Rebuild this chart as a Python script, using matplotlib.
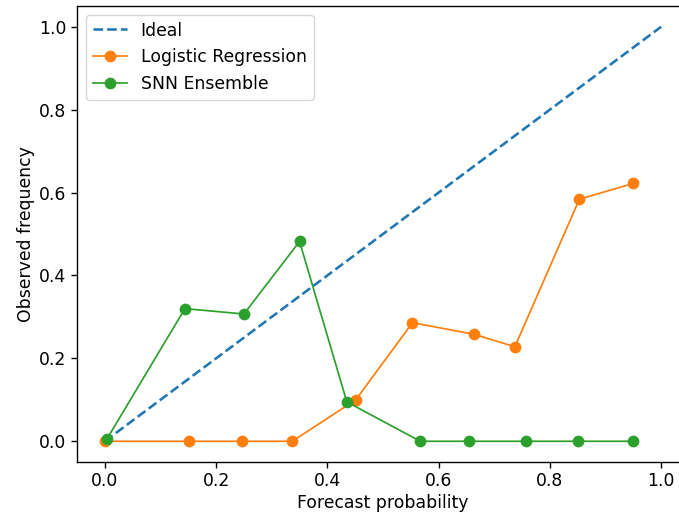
import matplotlib
matplotlib.use("Agg")
import matplotlib.pyplot as plt

ideal_x = [0.0, 1.0]
ideal_y = [0.0, 1.0]

lr_x = [0.0, 0.151, 0.247, 0.337, 0.451, 0.553, 0.664, 0.737, 0.853, 0.950]
lr_y = [0.0, 0.0, 0.0, 0.0, 0.100, 0.286, 0.258, 0.228, 0.584, 0.622]

snn_x = [0.004, 0.144, 0.250, 0.350, 0.435, 0.567, 0.654, 0.757, 0.850, 0.950]
snn_y = [0.006, 0.320, 0.307, 0.482, 0.095, 0.0, 0.0, 0.0, 0.0, 0.0]

s = 1.24
plt.rcParams.update({
    'font.size': 10 * s,
    'axes.linewidth': 0.8 * s,
    'xtick.major.size': 3.5 * s,
    'ytick.major.size': 3.5 * s,
    'xtick.major.width': 0.8 * s,
    'ytick.major.width': 0.8 * s,
    'xtick.major.pad': 3.0,
    'ytick.major.pad': 3.5,
    'axes.labelpad': 3.0,
})

fig = plt.figure(figsize=(6.79, 5.15), dpi=100)
ax = fig.add_axes([77/679, 53/515, 612/679, 456/515])

ax.plot(ideal_x, ideal_y, '--', color='#1f77b4', lw=1.5 * s, label='Ideal')
ax.plot(lr_x, lr_y, '-o', color='#ff7f0e', lw=1.0 * s, ms=6 * s, label='Logistic Regression')
ax.plot(snn_x, snn_y, '-o', color='#2ca02c', lw=1.0 * s, ms=6 * s, label='SNN Ensemble')

ax.set_xlabel('Forecast probability')
ax.set_ylabel('Observed frequency')
ax.legend(loc='upper left')

fig.savefig('out.png', dpi=100)
